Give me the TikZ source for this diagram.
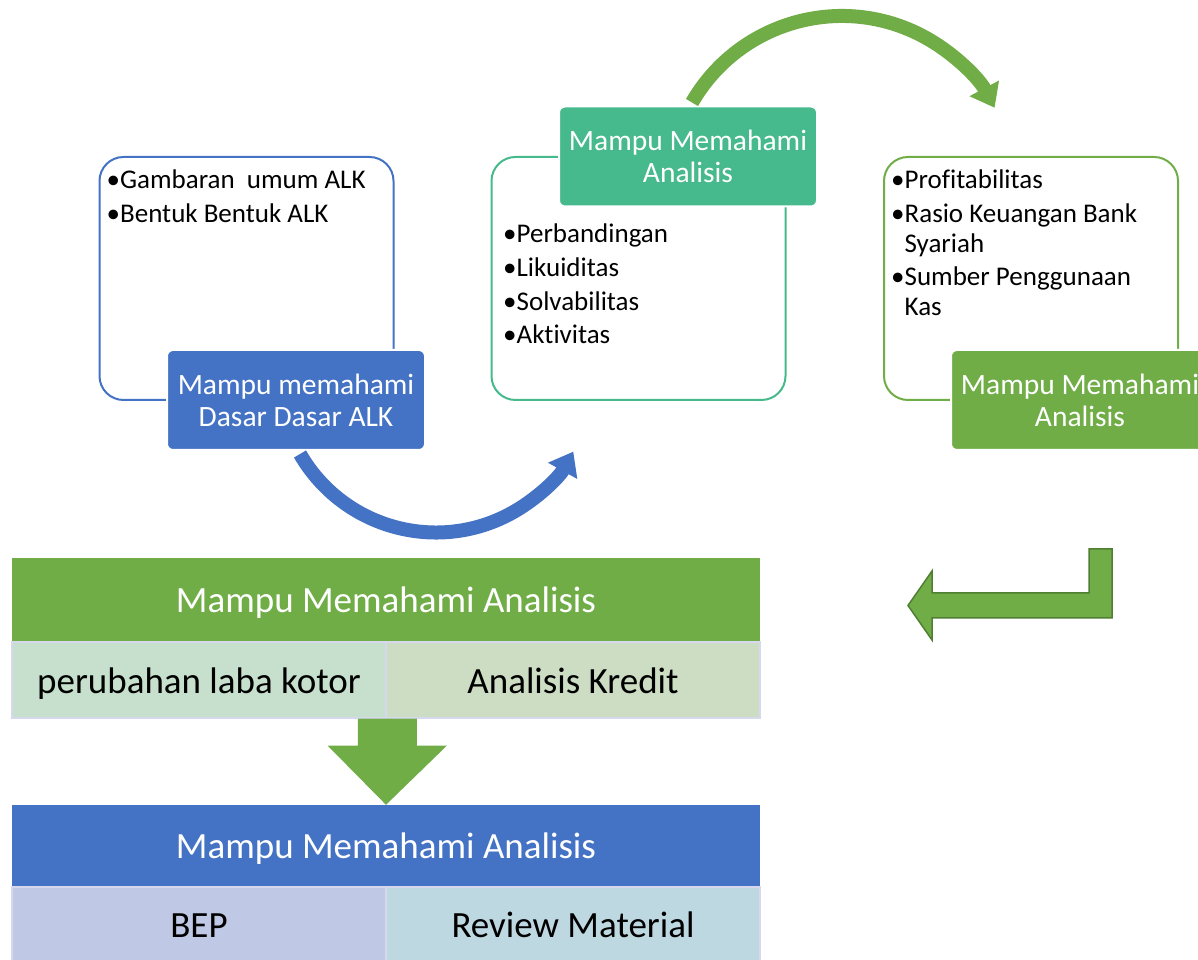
\documentclass[tikz,border=0pt]{standalone}
\usepackage{fontspec}
\setmainfont{Carlito}[RawFeature=-liga]
\usetikzlibrary{arrows.meta}

\definecolor{accblue}{HTML}{4472C4}
\definecolor{accteal}{HTML}{46B98D}
\definecolor{accgreen}{HTML}{70AD47}
\definecolor{darkgreen}{HTML}{507E32}
\definecolor{celllaba}{HTML}{C6E0CD}
\definecolor{cellkredit}{HTML}{CDDDC3}
\definecolor{cellbep}{HTML}{BFC8E4}
\definecolor{cellreview}{HTML}{BED8E2}
\definecolor{cellline}{HTML}{D6D9EE}

\tikzset{
  frame/.style={draw=#1, line width=2, rounded corners=24, minimum width=294, minimum height=243},
  headbox/.style={fill=#1, draw=white, line width=2, rounded corners=6, text=white, align=center,
    minimum width=258, minimum height=100, font=\fontsize{29.5}{32}\selectfont},
  listtext/.style={anchor=north west, align=left, inner sep=0, font=\fontsize{27}{29.6}\selectfont},
  bandarrow/.style={line width=14, draw=#1, -{Triangle[width=32, length=22]}},
  tabhead/.style={fill=#1, text=white, minimum width=748, minimum height=84, inner sep=0,
    text height=32, text depth=6, font=\fontsize{37}{42}\selectfont},
  tabcell/.style={fill=#1, draw=cellline, line width=1.5, minimum width=374, minimum height=76, inner sep=0,
    text height=33, text depth=6, font=\fontsize{37}{42}\selectfont}
}

\begin{document}
\begin{tikzpicture}[x=1pt, y=1pt]
\useasboundingbox (0,0) rectangle (1198,960);
\clip (0,0) rectangle (1198,960);

% Define outline frames
\node[frame=accblue] (frame-1) at (246.5,681.5) {};
\node[frame=accteal] (frame-2) at (638.5,681.5) {};
\node[frame=accgreen] (frame-3) at (1031,681.5) {};

% Define filled boxes
\node[headbox=accblue] (dasar) at (296,560) {Mampu memahami\\Dasar Dasar ALK};
\node[headbox=accteal] (analisis) at (688,803.5) {Mampu Memahami\\Analisis};
\node[headbox=accgreen] (analisis-2) at (1080,560) {Mampu Memahami\\Analisis};

% Bullet lists
\node[listtext] (list-1) at ([xshift=8, yshift=-14]frame-1.north west)
  {\textbullet Gambaran\ \ umum ALK\\[4pt]\textbullet Bentuk Bentuk ALK};
\node[listtext] (list-2) at (503,736)
  {\textbullet Perbandingan\\[4pt]\textbullet Likuiditas\\[4pt]\textbullet Solvabilitas\\[4pt]\textbullet Aktivitas};
\node[listtext] (list-3) at ([xshift=8, yshift=-14]frame-3.north west)
  {\textbullet Profitabilitas\\[4pt]\textbullet Rasio Keuangan Bank\\\phantom{\textbullet}Syariah\\[4pt]\textbullet Sumber Penggunaan\\\phantom{\textbullet}Kas};

% Curved arrows
\draw[bandarrow=accblue] ([xshift=4, yshift=-3]dasar.south) arc[start angle=210, end angle=331, radius=157];
\draw[bandarrow=accgreen] ([xshift=4, yshift=3]analisis.north) arc[start angle=150, end angle=28, radius=173];

% Bent arrow
\draw[fill=accgreen, draw=darkgreen, line width=1.5]
  (1112,411) -- (1112,342) -- (932,342) -- (932,320) -- (908,354.5) -- (932,389)
  -- (932,367) -- (1089,367) -- (1089,411) -- cycle;

% Table one
\node[tabhead=accgreen] (head-1) at (386,360) {Mampu Memahami Analisis};
\node[tabcell=celllaba] (laba) at (199,280) {perubahan laba kotor};
\node[tabcell=cellkredit] (kredit) at (573,280) {Analisis Kredit};

% Table two
\node[tabhead=accblue, minimum height=82] (head-2) at (386,114) {Mampu Memahami Analisis};
\node[tabcell=cellbep, minimum height=74] (bep) at (199,36) {BEP};
\node[tabcell=cellreview, minimum height=74] (review) at (573,36) {Review Material};

% Down arrow
\fill[accgreen] ([xshift=-29]laba.south east) -- ([xshift=30]laba.south east)
  -- ([xshift=30, yshift=-27]laba.south east) -- ([xshift=60, yshift=-27]laba.south east)
  -- (head-2.north) -- ([xshift=-59, yshift=-27]laba.south east)
  -- ([xshift=-29, yshift=-27]laba.south east) -- cycle;
\end{tikzpicture}
\end{document}
